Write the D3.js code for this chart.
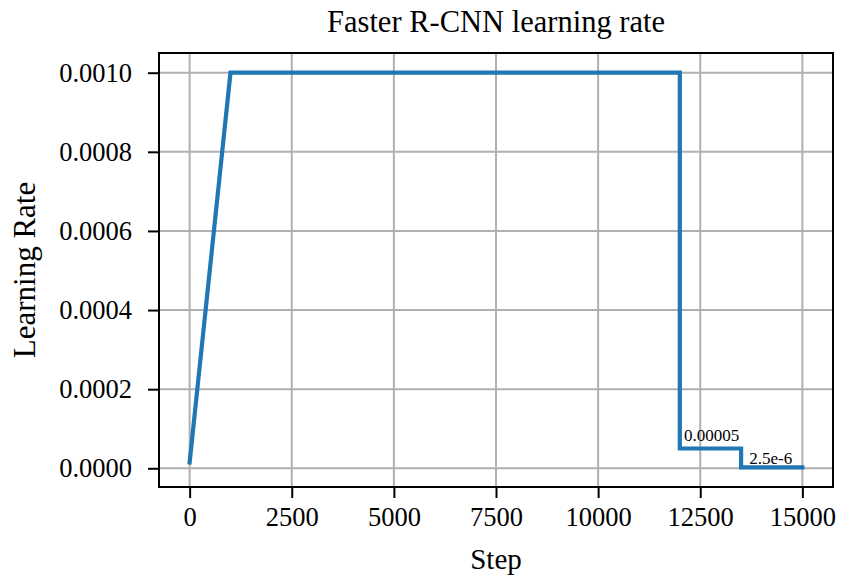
<!DOCTYPE html>
<html>
<head>
<meta charset="utf-8">
<script src="https://cdn.jsdelivr.net/npm/d3@7"></script>
<style>
  body { margin: 0; background: #fff; }
  svg text { font-family: "Liberation Serif", "DejaVu Serif", serif; fill: #000; }
  .grid line { stroke: #b0b0b0; stroke-width: 2; }
  .axis path { display: none; }
  .axis line { stroke: #000; stroke-width: 2; }
</style>
</head>
<body>
<svg id="chart"></svg>
<script>
// data
const steps = [0, 1000, 12000, 12000, 13500, 13500, 15000];
const rates = [0.000015, 0.001, 0.001, 0.00005, 0.00005, 0.0000025, 0.0000025];

const xTicks = [0, 2500, 5000, 7500, 10000, 12500, 15000];
const yTicks = [0, 0.0002, 0.0004, 0.0006, 0.0008, 0.001];

const noteSteps = [12100, 13700];
const noteRates = [0.00007, 0.000012];
const noteLabels = ["0.00005", "2.5e-6"];

// plot box
const W = 841, H = 580;
const plotLeft = 159, plotRight = 833, plotTop = 53, plotBottom = 487;

const svg = d3.select("#chart")
  .attr("width", W)
  .attr("height", H);

// 5% margins like matplotlib
const xScale = d3.scaleLinear()
  .domain([-750, 15750])
  .range([plotLeft, plotRight]);

const yScale = d3.scaleLinear()
  .domain([-0.0000473, 0.0010498])
  .range([plotBottom, plotTop]);

// grid
const grid = svg.append("g").attr("class", "grid");
grid.selectAll(".gx")
  .data(xTicks)
  .enter().append("line")
  .attr("x1", d => xScale(d)).attr("x2", d => xScale(d))
  .attr("y1", plotTop).attr("y2", plotBottom);
grid.selectAll(".gy")
  .data(yTicks)
  .enter().append("line")
  .attr("y1", d => yScale(d)).attr("y2", d => yScale(d))
  .attr("x1", plotLeft).attr("x2", plotRight);

// axes
const xAxis = svg.append("g")
  .attr("class", "axis")
  .attr("transform", "translate(0," + plotBottom + ")")
  .call(d3.axisBottom(xScale).tickValues(xTicks).tickFormat(d3.format("d"))
    .tickSizeOuter(0).tickSize(11).tickPadding(9));
xAxis.selectAll("text").style("font-size", "26.5px");

const yAxis = svg.append("g")
  .attr("class", "axis")
  .attr("transform", "translate(" + plotLeft + ",0)")
  .call(d3.axisLeft(yScale).tickValues(yTicks).tickFormat(d3.format(".4f"))
    .tickSizeOuter(0).tickSize(11).tickPadding(16));
yAxis.selectAll("text").style("font-size", "26.5px");

// learning rate line
const line = d3.line()
  .x((d, i) => xScale(steps[i]))
  .y(d => yScale(d));

svg.append("path")
  .datum(rates)
  .attr("d", line)
  .attr("fill", "none")
  .attr("stroke", "#1f77b4")
  .attr("stroke-width", 4.2)
  .attr("stroke-linejoin", "miter")
  .attr("stroke-linecap", "square");

// annotations
svg.selectAll(".note")
  .data(noteLabels)
  .enter().append("text")
  .attr("class", "note")
  .attr("x", (d, i) => xScale(noteSteps[i]))
  .attr("y", (d, i) => yScale(noteRates[i]))
  .style("font-size", "17px")
  .text(d => d);

// frame
svg.append("rect")
  .attr("x", plotLeft).attr("y", plotTop)
  .attr("width", plotRight - plotLeft).attr("height", plotBottom - plotTop)
  .attr("fill", "none")
  .attr("stroke", "#000")
  .attr("stroke-width", 2);

// titles
svg.append("text")
  .attr("x", (plotLeft + plotRight) / 2)
  .attr("y", 32)
  .attr("text-anchor", "middle")
  .style("font-size", "30.5px")
  .text("Faster R-CNN learning rate");

svg.append("text")
  .attr("x", (plotLeft + plotRight) / 2)
  .attr("y", 569)
  .attr("text-anchor", "middle")
  .style("font-size", "29px")
  .text("Step");

svg.append("text")
  .attr("transform", "translate(35," + (plotTop + plotBottom) / 2 + ") rotate(-90)")
  .attr("text-anchor", "middle")
  .style("font-size", "31px")
  .text("Learning Rate");
</script>
</body>
</html>
